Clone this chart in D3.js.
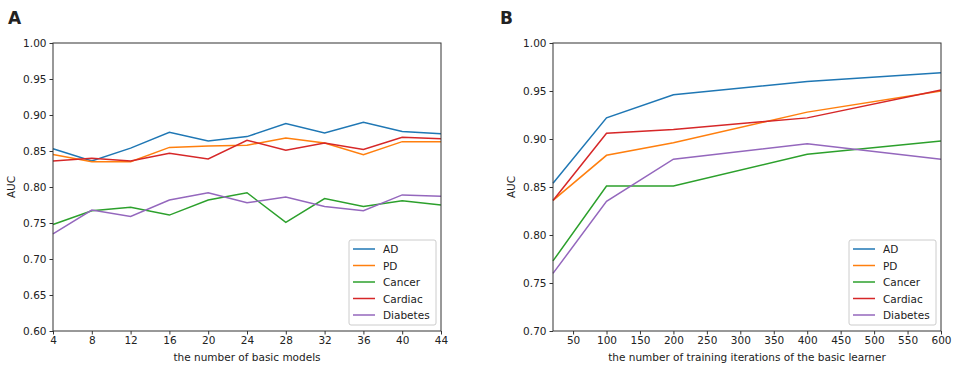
<!DOCTYPE html>
<html>
<head>
<meta charset="utf-8">
<script src="https://cdn.jsdelivr.net/npm/d3@7"></script>
<style>
  body { margin: 0; background: #fff; }
  text { font-family: "DejaVu Sans", sans-serif; fill: #222; }
</style>
</head>
<body>
<div id="chart"></div>
<script>
const WIDTH = 957;
const HEIGHT = 369;

const seriesNames = ['AD', 'PD', 'Cancer', 'Cardiac', 'Diabetes'];
const colors = ['#1f77b4', '#ff7f0e', '#2ca02c', '#d62728', '#9467bd'];

// panel A: number of basic models
const modelsX = [4, 8, 12, 16, 20, 24, 28, 32, 36, 40, 44];
const modelsAD = [0.853, 0.836, 0.854, 0.876, 0.864, 0.870, 0.888, 0.875, 0.890, 0.877, 0.874];
const modelsPD = [0.845, 0.835, 0.835, 0.855, 0.857, 0.858, 0.868, 0.861, 0.845, 0.863, 0.863];
const modelsCancer = [0.748, 0.767, 0.772, 0.761, 0.782, 0.792, 0.751, 0.784, 0.773, 0.781, 0.775];
const modelsCardiac = [0.836, 0.840, 0.836, 0.847, 0.839, 0.865, 0.851, 0.861, 0.852, 0.869, 0.867];
const modelsDiabetes = [0.735, 0.768, 0.759, 0.782, 0.792, 0.778, 0.786, 0.773, 0.767, 0.789, 0.787];
const modelsTicks = [4, 8, 12, 16, 20, 24, 28, 32, 36, 40, 44];
const modelsYTicks = [0.60, 0.65, 0.70, 0.75, 0.80, 0.85, 0.90, 0.95, 1.00];

// panel B: training iterations
const itersX = [20, 100, 200, 400, 600];
const itersAD = [0.854, 0.922, 0.946, 0.960, 0.969];
const itersPD = [0.836, 0.883, 0.896, 0.928, 0.950];
const itersCancer = [0.773, 0.851, 0.851, 0.884, 0.898];
const itersCardiac = [0.836, 0.906, 0.910, 0.922, 0.951];
const itersDiabetes = [0.760, 0.835, 0.879, 0.895, 0.879];
const itersTicks = [50, 100, 150, 200, 250, 300, 350, 400, 450, 500, 550, 600];
const itersYTicks = [0.70, 0.75, 0.80, 0.85, 0.90, 0.95, 1.00];

const svg = d3.select('#chart').append('svg')
    .attr('width', WIDTH)
    .attr('height', HEIGHT);

function drawPanel(opts) {
    const x = d3.scaleLinear().domain(opts.xDomain).range([opts.left, opts.right]);
    const y = d3.scaleLinear().domain(opts.yDomain).range([331, 43]);
    const g = svg.append('g');

    const line = d3.line()
        .x((d, i) => x(opts.xs[i]))
        .y(d => y(d));

    opts.series.forEach((vals, i) => {
        g.append('path')
            .datum(vals)
            .attr('d', line)
            .attr('fill', 'none')
            .attr('stroke', colors[i])
            .attr('stroke-width', 1.5);
    });

    // frame
    g.append('rect')
        .attr('x', opts.left).attr('y', 43)
        .attr('width', opts.right - opts.left).attr('height', 288)
        .attr('fill', 'none').attr('stroke', '#333').attr('stroke-width', 1);

    const xAxis = g.append('g')
        .attr('transform', 'translate(0,331)')
        .call(d3.axisBottom(x).tickValues(opts.xTicks).tickSize(3.5).tickPadding(2).tickFormat(d3.format('d')));
    const yAxis = g.append('g')
        .attr('transform', `translate(${opts.left},0)`)
        .call(d3.axisLeft(y).tickValues(opts.yTicks).tickSize(3.5).tickPadding(3).tickFormat(d3.format('.2f')));
    [xAxis, yAxis].forEach(a => {
        a.select('.domain').remove();
        a.selectAll('line').attr('stroke', '#333');
        a.selectAll('text').style('font-size', '10.5px').attr('fill', '#222');
    });

    g.append('text')
        .attr('x', (opts.left + opts.right) / 2)
        .attr('y', 361)
        .attr('text-anchor', 'middle')
        .style('font-size', '10.5px')
        .text(opts.xLabel);

    g.append('text')
        .attr('transform', `translate(${opts.yLabelX},187) rotate(-90)`)
        .attr('text-anchor', 'middle')
        .style('font-size', '10.5px')
        .text('AUC');

    g.append('text')
        .attr('x', opts.letterX)
        .attr('y', 24)
        .style('font-size', '17px')
        .style('font-weight', 'bold')
        .attr('fill', '#111')
        .text(opts.letter);

    // legend
    const lx = opts.right - 92;
    const legend = g.append('g').attr('transform', `translate(${lx},240)`);
    legend.append('rect')
        .attr('width', 87).attr('height', 85).attr('rx', 2)
        .attr('fill', '#fff').attr('fill-opacity', 0.8)
        .attr('stroke', '#ccc');
    seriesNames.forEach((name, i) => {
        const yy = 9 + i * 16.5;
        legend.append('line')
            .attr('x1', 4).attr('x2', 26)
            .attr('y1', yy).attr('y2', yy)
            .attr('stroke', colors[i]).attr('stroke-width', 1.5);
        legend.append('text')
            .attr('x', 34).attr('y', yy + 4)
            .style('font-size', '10.5px')
            .text(name);
    });
}

drawPanel({
    left: 53, right: 441,
    xDomain: [4, 44], yDomain: [0.6, 1.0],
    xs: modelsX,
    series: [modelsAD, modelsPD, modelsCancer, modelsCardiac, modelsDiabetes],
    xTicks: modelsTicks, yTicks: modelsYTicks,
    xLabel: 'the number of basic models',
    yLabelX: 15, letter: 'A', letterX: 8
});

drawPanel({
    left: 553, right: 941,
    xDomain: [20, 600], yDomain: [0.7, 1.0],
    xs: itersX,
    series: [itersAD, itersPD, itersCancer, itersCardiac, itersDiabetes],
    xTicks: itersTicks, yTicks: itersYTicks,
    xLabel: 'the number of training iterations of the basic learner',
    yLabelX: 515, letter: 'B', letterX: 500
});
</script>
</body>
</html>
